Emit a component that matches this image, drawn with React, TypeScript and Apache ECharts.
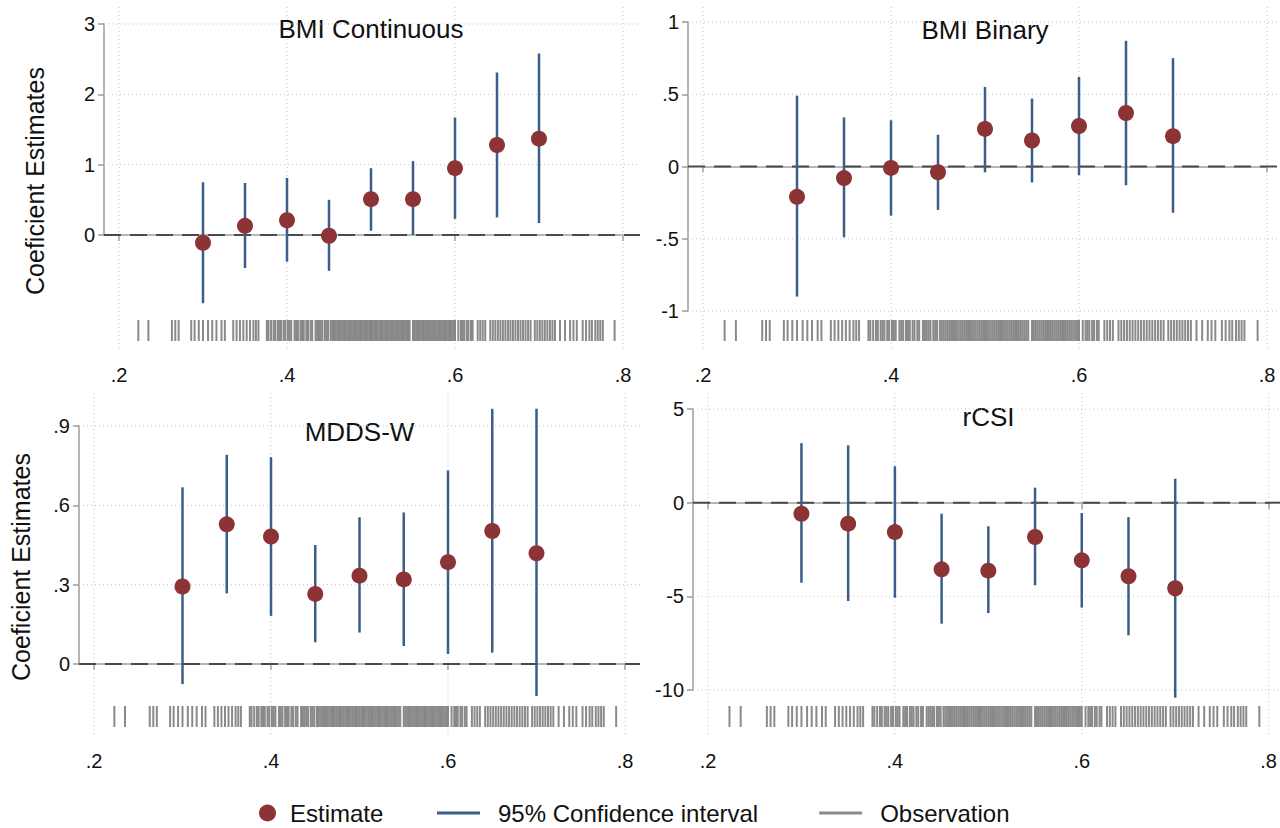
import React, { useEffect, useRef } from "react";
import * as echarts from "echarts";

// ---------- data ----------
const xTicks = [0.2, 0.4, 0.6, 0.8];
const xPositions = [0.3, 0.35, 0.4, 0.45, 0.5, 0.55, 0.6, 0.65, 0.7];

const panelTitles = ["BMI Continuous", "BMI Binary", "MDDS-W", "rCSI"];

const bmiContEst = [-0.11, 0.13, 0.21, -0.01, 0.51, 0.51, 0.95, 1.28, 1.37];
const bmiContLo = [-0.97, -0.47, -0.38, -0.51, 0.06, 0.0, 0.23, 0.25, 0.17];
const bmiContHi = [0.75, 0.74, 0.81, 0.5, 0.95, 1.05, 1.67, 2.31, 2.58];

const bmiBinEst = [-0.21, -0.08, -0.01, -0.04, 0.26, 0.18, 0.28, 0.37, 0.21];
const bmiBinLo = [-0.9, -0.49, -0.34, -0.3, -0.04, -0.11, -0.06, -0.13, -0.32];
const bmiBinHi = [0.49, 0.34, 0.32, 0.22, 0.55, 0.47, 0.62, 0.87, 0.75];

const mddsEst = [0.293, 0.528, 0.482, 0.265, 0.334, 0.32, 0.385, 0.503, 0.419];
const mddsLo = [-0.076, 0.267, 0.182, 0.082, 0.119, 0.068, 0.038, 0.043, -0.121];
const mddsHi = [0.668, 0.791, 0.782, 0.45, 0.555, 0.573, 0.732, 0.965, 0.965];

const rcsiEst = [-0.59, -1.12, -1.57, -3.56, -3.63, -1.83, -3.08, -3.93, -4.57];
const rcsiLo = [-4.27, -5.25, -5.07, -6.46, -5.89, -4.41, -5.6, -7.08, -10.41];
const rcsiHi = [3.18, 3.06, 1.94, -0.59, -1.26, 0.8, -0.55, -0.77, 1.28];

const yTicksBmiCont = [0, 1, 2, 3];
const yTicksBmiBin = [-1, -0.5, 0, 0.5, 1];
const yTicksMdds = [0, 0.3, 0.6, 0.9];
const yTicksRcsi = [-10, -5, 0, 5];

const observations = [
  0.223, 0.235,
  0.263, 0.267, 0.271,
  0.286, 0.29, 0.295, 0.3, 0.306, 0.311, 0.316, 0.322, 0.326,
  0.336, 0.34, 0.344, 0.348, 0.352, 0.356, 0.36, 0.363, 0.366,
  0.376, 0.378, 0.381, 0.384, 0.386, 0.389, 0.391, 0.393, 0.396, 0.398,
  0.401, 0.403, 0.405, 0.409, 0.411, 0.413, 0.416, 0.418, 0.42, 0.423,
  0.425, 0.428, 0.43, 0.434, 0.436, 0.438, 0.44, 0.442, 0.445, 0.447,
  0.449, 0.452, 0.454, 0.456, 0.458, 0.46, 0.462, 0.464, 0.466, 0.468,
  0.47, 0.472, 0.474, 0.476, 0.478, 0.48, 0.482, 0.484, 0.486, 0.488,
  0.49, 0.492, 0.494, 0.496, 0.498, 0.5, 0.502, 0.504, 0.506, 0.508,
  0.51, 0.512, 0.514, 0.516, 0.518, 0.52, 0.522, 0.524, 0.526, 0.528,
  0.53, 0.532, 0.534, 0.536, 0.538, 0.54, 0.542, 0.544, 0.546, 0.55,
  0.552, 0.554, 0.556, 0.558, 0.56, 0.562, 0.564, 0.566, 0.568, 0.57,
  0.572, 0.574, 0.576, 0.578, 0.58, 0.582, 0.584, 0.586, 0.588, 0.59,
  0.592, 0.594, 0.596, 0.598, 0.6, 0.604, 0.607, 0.609, 0.611, 0.614,
  0.616, 0.619, 0.621, 0.627, 0.63, 0.633, 0.636, 0.642, 0.645, 0.648,
  0.651, 0.654, 0.657, 0.66, 0.663, 0.666, 0.669, 0.672, 0.675, 0.678,
  0.681, 0.684, 0.687, 0.69, 0.695, 0.698, 0.701, 0.704, 0.707, 0.71,
  0.713, 0.716, 0.719, 0.725, 0.731, 0.737, 0.741, 0.745, 0.752, 0.756,
  0.76, 0.763, 0.767, 0.77, 0.773, 0.776, 0.79,
];

// ---------- style / layout ----------
const FONT = "'Liberation Sans', Arial, sans-serif";
const EST_COLOR = "#8c3336";
const CI_COLOR = "#3a5e87";
const OBS_COLOR = "#767676";
const AXIS_COLOR = "#9c9c9c";
const GRID_COLOR = "#c4c4c4";
const ZERO_COLOR = "#4a4a4a";
const TEXT_COLOR = "#111111";

const panels = [
  { title: panelTitles[0], est: bmiContEst, lo: bmiContLo, hi: bmiContHi, yTicks: yTicksBmiCont,
    left: 119, right: 623, top: 24, bottom: 235, axisY: 355, plotTop: 7, plotRight: 640, titleY: 29 },
  { title: panelTitles[1], est: bmiBinEst, lo: bmiBinLo, hi: bmiBinHi, yTicks: yTicksBmiBin,
    left: 703, right: 1267, top: 22, bottom: 311, axisY: 355, plotTop: 7, plotRight: 1280, titleY: 30 },
  { title: panelTitles[2], est: mddsEst, lo: mddsLo, hi: mddsHi, yTicks: yTicksMdds,
    left: 94, right: 625, top: 426, bottom: 664, axisY: 741, plotTop: 393, plotRight: 640, titleY: 432 },
  { title: panelTitles[3], est: rcsiEst, lo: rcsiLo, hi: rcsiHi, yTicks: yTicksRcsi,
    left: 708, right: 1269, top: 409, bottom: 690, axisY: 741, plotTop: 393, plotRight: 1280, titleY: 417 },
];

const fmt = (v: number) => {
  const s = String(Math.round(v * 1000) / 1000);
  return s.replace(/^0\./, ".").replace(/^-0\./, "-.");
};

function buildOption() {
  const grid: any[] = [];
  const xAxis: any[] = [];
  const yAxis: any[] = [];
  const series: any[] = [];
  const graphic: any[] = [];

  panels.forEach((p, i) => {
    const yMin = p.yTicks[0];
    const yMax = p.yTicks[p.yTicks.length - 1];
    const interval = p.yTicks[1] - p.yTicks[0];
    grid.push({ left: p.left, top: p.top, width: p.right - p.left, height: p.bottom - p.top });
    xAxis.push({
      type: "value", gridIndex: i, min: xTicks[0], max: xTicks[xTicks.length - 1],
      interval: xTicks[1] - xTicks[0], offset: p.axisY - p.bottom,
      axisLine: { show: true, lineStyle: { color: AXIS_COLOR, width: 1.5 } },
      axisTick: { show: true, length: 6, lineStyle: { color: AXIS_COLOR, width: 1.5 } },
      axisLabel: { fontSize: 20, fontFamily: FONT, color: TEXT_COLOR, margin: 10, formatter: fmt },
      splitLine: { show: false },
    });
    yAxis.push({
      type: "value", gridIndex: i, min: yMin, max: yMax, interval, offset: 15,
      axisLine: { show: true, lineStyle: { color: AXIS_COLOR, width: 1.5 } },
      axisTick: { show: true, length: 6, lineStyle: { color: AXIS_COLOR, width: 1.5 } },
      axisLabel: { fontSize: 20, fontFamily: FONT, color: TEXT_COLOR, margin: 9, formatter: fmt },
      splitLine: { show: false },
    });

    // vertical dotted grid lines
    series.push({
      type: "custom", xAxisIndex: i, yAxisIndex: i, silent: true, clip: false, z: 1,
      data: xTicks.map((x) => [x, yMin]),
      renderItem: (params: any, api: any) => {
        const px = api.coord([api.value(0), yMin])[0];
        return { type: "line", shape: { x1: px, y1: p.plotTop, x2: px, y2: p.axisY - 7 },
          style: { stroke: GRID_COLOR, lineWidth: 1, lineDash: [1, 3] } };
      },
    });
    // horizontal dotted grid lines
    series.push({
      type: "custom", xAxisIndex: i, yAxisIndex: i, silent: true, clip: false, z: 1,
      data: p.yTicks.map((y) => [0.5, y]),
      renderItem: (params: any, api: any) => {
        const py = api.coord([0.5, api.value(1)])[1];
        return { type: "line", shape: { x1: p.left - 15, y1: py, x2: p.plotRight, y2: py },
          style: { stroke: GRID_COLOR, lineWidth: 1, lineDash: [1, 3] } };
      },
    });
    // dashed zero line
    series.push({
      type: "custom", xAxisIndex: i, yAxisIndex: i, silent: true, clip: false, z: 2,
      data: [[0.5, 0]],
      renderItem: (params: any, api: any) => {
        const py = api.coord([0.5, 0])[1];
        return { type: "line", shape: { x1: p.left - 15, y1: py, x2: p.plotRight, y2: py },
          style: { stroke: ZERO_COLOR, lineWidth: 2, lineDash: [17, 9] } };
      },
    });
    // rug of observations
    series.push({
      name: "Observation", type: "custom", xAxisIndex: i, yAxisIndex: i, silent: true, clip: false, z: 3,
      itemStyle: { color: "#8a8a8a" },
      data: observations.map((x) => [x, yMin]),
      renderItem: (params: any, api: any) => {
        const px = api.coord([api.value(0), yMin])[0];
        return { type: "line", shape: { x1: px, y1: p.axisY - 35, x2: px, y2: p.axisY - 14 },
          style: { stroke: OBS_COLOR, lineWidth: 2, opacity: 0.85 } };
      },
    });
    // confidence intervals
    series.push({
      name: "95% Confidence interval", type: "custom", xAxisIndex: i, yAxisIndex: i, silent: true,
      clip: false, z: 4, itemStyle: { color: CI_COLOR },
      data: xPositions.map((x, j) => [x, p.lo[j], p.hi[j]]),
      encode: { x: 0, y: [1, 2] },
      renderItem: (params: any, api: any) => {
        const x = api.value(0);
        const a = api.coord([x, api.value(1)]);
        const b = api.coord([x, api.value(2)]);
        return { type: "line", shape: { x1: a[0], y1: a[1], x2: b[0], y2: b[1] },
          style: { stroke: CI_COLOR, lineWidth: 2.5 } };
      },
    });
    // estimates
    series.push({
      name: "Estimate", type: "scatter", xAxisIndex: i, yAxisIndex: i, clip: false, z: 5,
      symbol: "circle", symbolSize: 16, itemStyle: { color: EST_COLOR, opacity: 1 },
      data: xPositions.map((x, j) => [x, p.est[j]]),
    });

    graphic.push({
      type: "text", x: (p.left + p.right) / 2, y: p.titleY,
      style: { text: p.title, align: "center", verticalAlign: "middle", fontSize: 26,
        fontFamily: FONT, fill: TEXT_COLOR },
    });
  });

  graphic.push({
    type: "text", x: 35, y: 181, rotation: Math.PI / 2,
    style: { text: "Coeficient Estimates", align: "center", verticalAlign: "middle", fontSize: 25,
      fontFamily: FONT, fill: TEXT_COLOR },
  });
  graphic.push({
    type: "text", x: 21, y: 567, rotation: Math.PI / 2,
    style: { text: "Coeficient Estimates", align: "center", verticalAlign: "middle", fontSize: 25,
      fontFamily: FONT, fill: TEXT_COLOR },
  });

  return {
    animation: false,
    backgroundColor: "#ffffff",
    grid, xAxis, yAxis, series, graphic,
    legend: [
      {
        data: [{ name: "Estimate", icon: "circle" }], left: 259, top: 801,
        itemWidth: 17, itemHeight: 17, selectedMode: false, padding: 0,
        textStyle: { fontSize: 24, lineHeight: 24, fontFamily: FONT, color: TEXT_COLOR, padding: [0, 0, 0, 9] },
      },
      {
        data: [{ name: "95% Confidence interval", icon: "rect" }, { name: "Observation", icon: "rect" }],
        left: 437, top: 801, itemWidth: 43, itemHeight: 3, itemGap: 61, selectedMode: false, padding: 0,
        textStyle: { fontSize: 24, lineHeight: 24, fontFamily: FONT, color: TEXT_COLOR, padding: [0, 0, 0, 13] },
      },
    ],
  };
}

export default function App() {
  const ref = useRef<HTMLDivElement>(null);
  useEffect(() => {
    if (!ref.current) return;
    const chart = echarts.init(ref.current, null, { renderer: "svg" });
    chart.setOption(buildOption() as any);
    return () => chart.dispose();
  }, []);
  return (
    <div
      ref={ref}
      style={{ position: "absolute", left: 0, top: 0, width: 1280, height: 828, background: "#fff" }}
    />
  );
}
